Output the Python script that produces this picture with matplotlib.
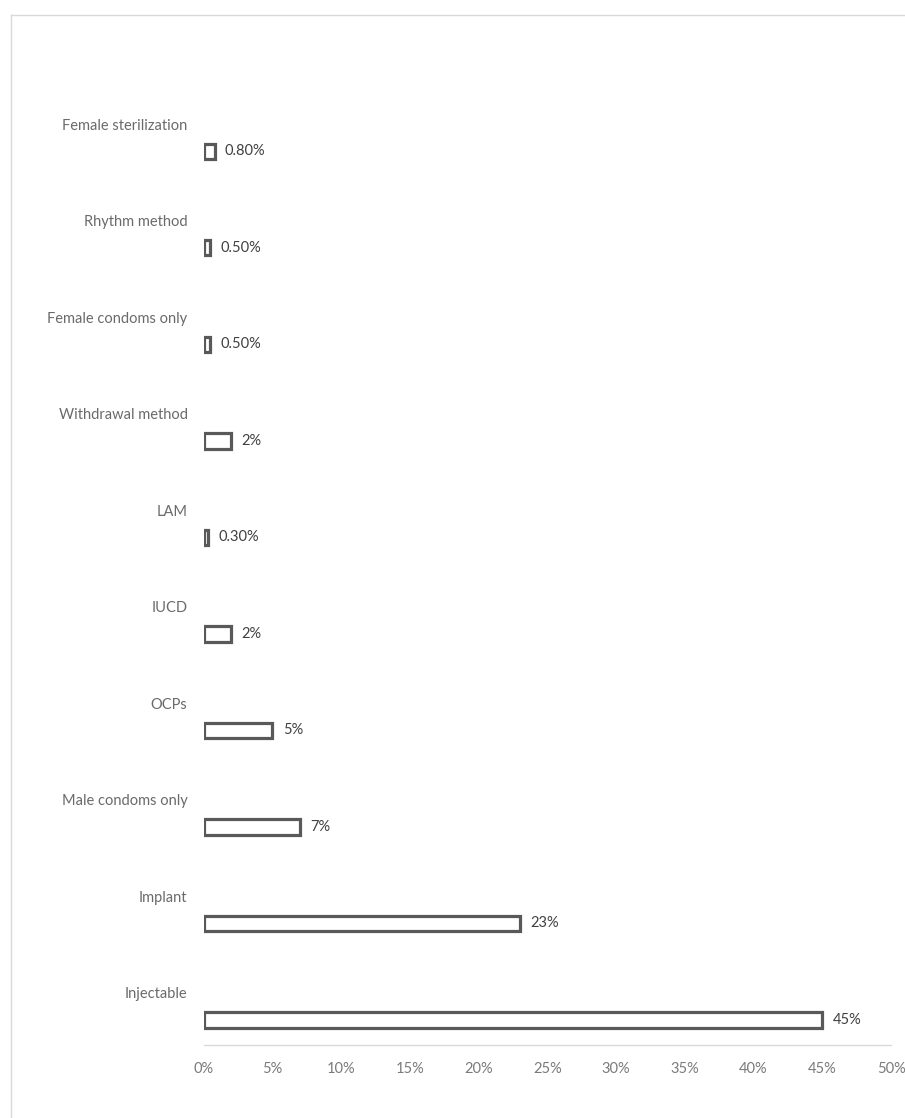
import matplotlib
matplotlib.use("Agg")
import matplotlib.pyplot as plt
from matplotlib.ticker import FuncFormatter
from matplotlib.lines import Line2D

categories = ["Injectable", "Implant", "Male condoms only", "OCPs", "IUCD", "LAM",
              "Withdrawal method", "Female condoms only", "Rhythm method",
              "Female sterilization"]
values = [0.45, 0.23, 0.07, 0.05, 0.02, 0.003, 0.02, 0.005, 0.005, 0.008]
value_labels = ["45%", "23%", "7%", "5%", "2%", "0.30%", "2%", "0.50%", "0.50%", "0.80%"]
xticks = [0, 0.05, 0.10, 0.15, 0.20, 0.25, 0.30, 0.35, 0.40, 0.45, 0.50]

plt.rcParams['font.family'] = ['Lato', 'DejaVu Sans']

W, H = 905, 1118
fig = plt.figure(figsize=(W / 100, H / 100), dpi=100)
ax = fig.add_axes([203.5 / W, 73 / H, (891 - 203.5) / W, (1045 - 103) / H])

y = list(range(len(categories)))
ax.barh(y, values, height=0.16, color="white", edgecolor="#595959", linewidth=2.3)

ax.set_xlim(0, 0.5)
ax.set_ylim(-0.26, 9.5)
ax.set_xticks(xticks)
ax.xaxis.set_major_formatter(FuncFormatter(lambda v, p: f"{v*100:.0f}%"))
ax.tick_params(axis="x", length=0, pad=12, labelsize=10.5, labelcolor="#7a7a7a")
ax.set_yticks([])
for s in ["top", "right", "left"]:
    ax.spines[s].set_visible(False)
ax.spines["bottom"].set_color("#d9d9d9")
ax.spines["bottom"].set_linewidth(1.0)

for yi, v, lab, cat in zip(y, values, value_labels, categories):
    ax.annotate(lab, (v, yi), xytext=(7.5, 0), textcoords="offset points",
                ha="left", va="center", fontsize=10.5, color="#404040")
    ax.annotate(cat, (0, yi), xytext=(-11.5, 18.5), textcoords="offset points",
                ha="right", va="center", fontsize=10.5, color="#6a6a6a",
                annotation_clip=False)

# light frame at left and top
fig.add_artist(Line2D([11 / W, 11 / W], [0, 1 - 15 / H], transform=fig.transFigure,
                      color="#d9d9d9", linewidth=1.0))
fig.add_artist(Line2D([11 / W, 1], [1 - 15 / H, 1 - 15 / H], transform=fig.transFigure,
                      color="#d9d9d9", linewidth=1.0))

fig.savefig("out.png", dpi=100)
